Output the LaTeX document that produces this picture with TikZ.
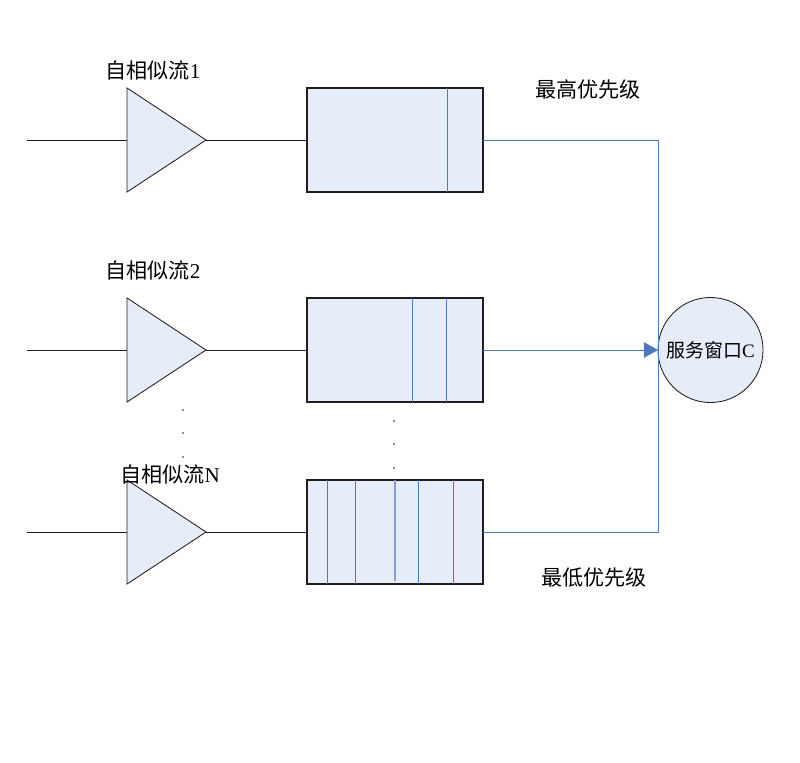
\documentclass[tikz,border=0pt]{standalone}
\usepackage{fontspec}
\setmainfont{Liberation Serif}
\newfontfamily\cjk{Noto Sans CJK SC}
\usepackage{tikz}
\usetikzlibrary{shapes.geometric, arrows.meta, calc}
\definecolor{qblue}{RGB}{79,120,190}
\definecolor{qfill}{RGB}{230,236,248}
\definecolor{qdark}{RGB}{30,30,30}
\tikzset{
  src/.style={isosceles triangle, isosceles triangle stretches, shape border rotate=0,
    draw=qdark, fill=qfill, minimum width=2.6cm, minimum height=1.975cm,
    inner sep=0pt, outer sep=0pt, line width=0.6pt, anchor=west},
  queue/.style={rectangle, draw=qdark, fill=qfill, minimum width=4.4cm,
    minimum height=2.6cm, inner sep=0pt, outer sep=0pt, line width=0.8pt},
  server/.style={circle, draw=qdark, fill=qfill, minimum size=2.625cm,
    inner sep=0pt, outer sep=0pt, line width=0.6pt},
  lbl/.style={font=\fontsize{15}{18}\selectfont, inner sep=0pt},
  cell/.style={qblue, line width=0.7pt},
  line/.style={qdark, line width=0.7pt},
  blueline/.style={qblue, line width=0.7pt},
  bluearrow/.style={-{Triangle[length=10pt,width=11pt]}, qblue, line width=0.7pt}
}
\begin{document}
\begin{tikzpicture}[x=0.025cm, y=-0.025cm]
  \useasboundingbox (0,0) rectangle (800,762);

  % sources
  \node[src] (s1) at (127,140) {};
  \node[src] (s2) at (127,350) {};
  \node[src] (s3) at (127,532) {};

  % queues
  \node[queue] (q1) at (395,140) {};
  \node[queue] (q2) at (395,350) {};
  \node[queue] (q3) at (395,532) {};

  % service window
  \node[server, lbl, font=\fontsize{13.5}{16}\selectfont] (srv) at (710.5,350) {{\cjk 服务窗口}C};

  % cells
  \draw[cell] ($(q1.north west)+(141,0)$) -- ($(q1.south west)+(141,0)$);
  \foreach \x in {106,140}
    \draw[cell] ($(q2.north west)+(\x,0)$) -- ($(q2.south west)+(\x,0)$);
  \foreach \x in {21,49,112,147}
    \draw[cell] ($(q3.north west)+(\x,0)$) -- ($(q3.south west)+(\x,0)$);
  \draw[qblue!70, line width=1.3pt] ($(q3.north west)+(88,0)$) -- ($(q3.south west)+(88,-3)$);

  % labels
  \node[lbl] (l1) at (153,70) {{\cjk 自相似流}1};
  \node[lbl] (l2) at (153,270) {{\cjk 自相似流}2};
  \node[lbl] (l3) at (170,474) {{\cjk 自相似流}N};
  \node[lbl] (hi) at (588,90) {\cjk 最高优先级};
  \node[lbl] (lo) at (594,578) {\cjk 最低优先级};

  % dots
  \foreach \y in {410,433,457}
    \fill[qdark] (183,\y) circle (0.6pt);
  \foreach \y in {421,444,468}
    \fill[qdark] (394,\y) circle (0.6pt);

  % inputs
  \coordinate (in1) at (27,140);
  \coordinate (in2) at (27,350);
  \coordinate (in3) at (27,532);
  \draw[line] (in1) -- (s1.west);
  \draw[line] (in2) -- (s2.west);
  \draw[line] (in3) -- (s3.west);
  \draw[line] (s1.apex) -- (q1.west);
  \draw[line] (s2.apex) -- (q2.west);
  \draw[line] (s3.apex) -- (q3.west);

  % to server
  \draw[blueline] (q1.east) -| (srv.west);
  \draw[blueline] (q3.east) -| (srv.west);
  \draw[bluearrow] (q2.east) -- (srv.west);
\end{tikzpicture}
\end{document}
